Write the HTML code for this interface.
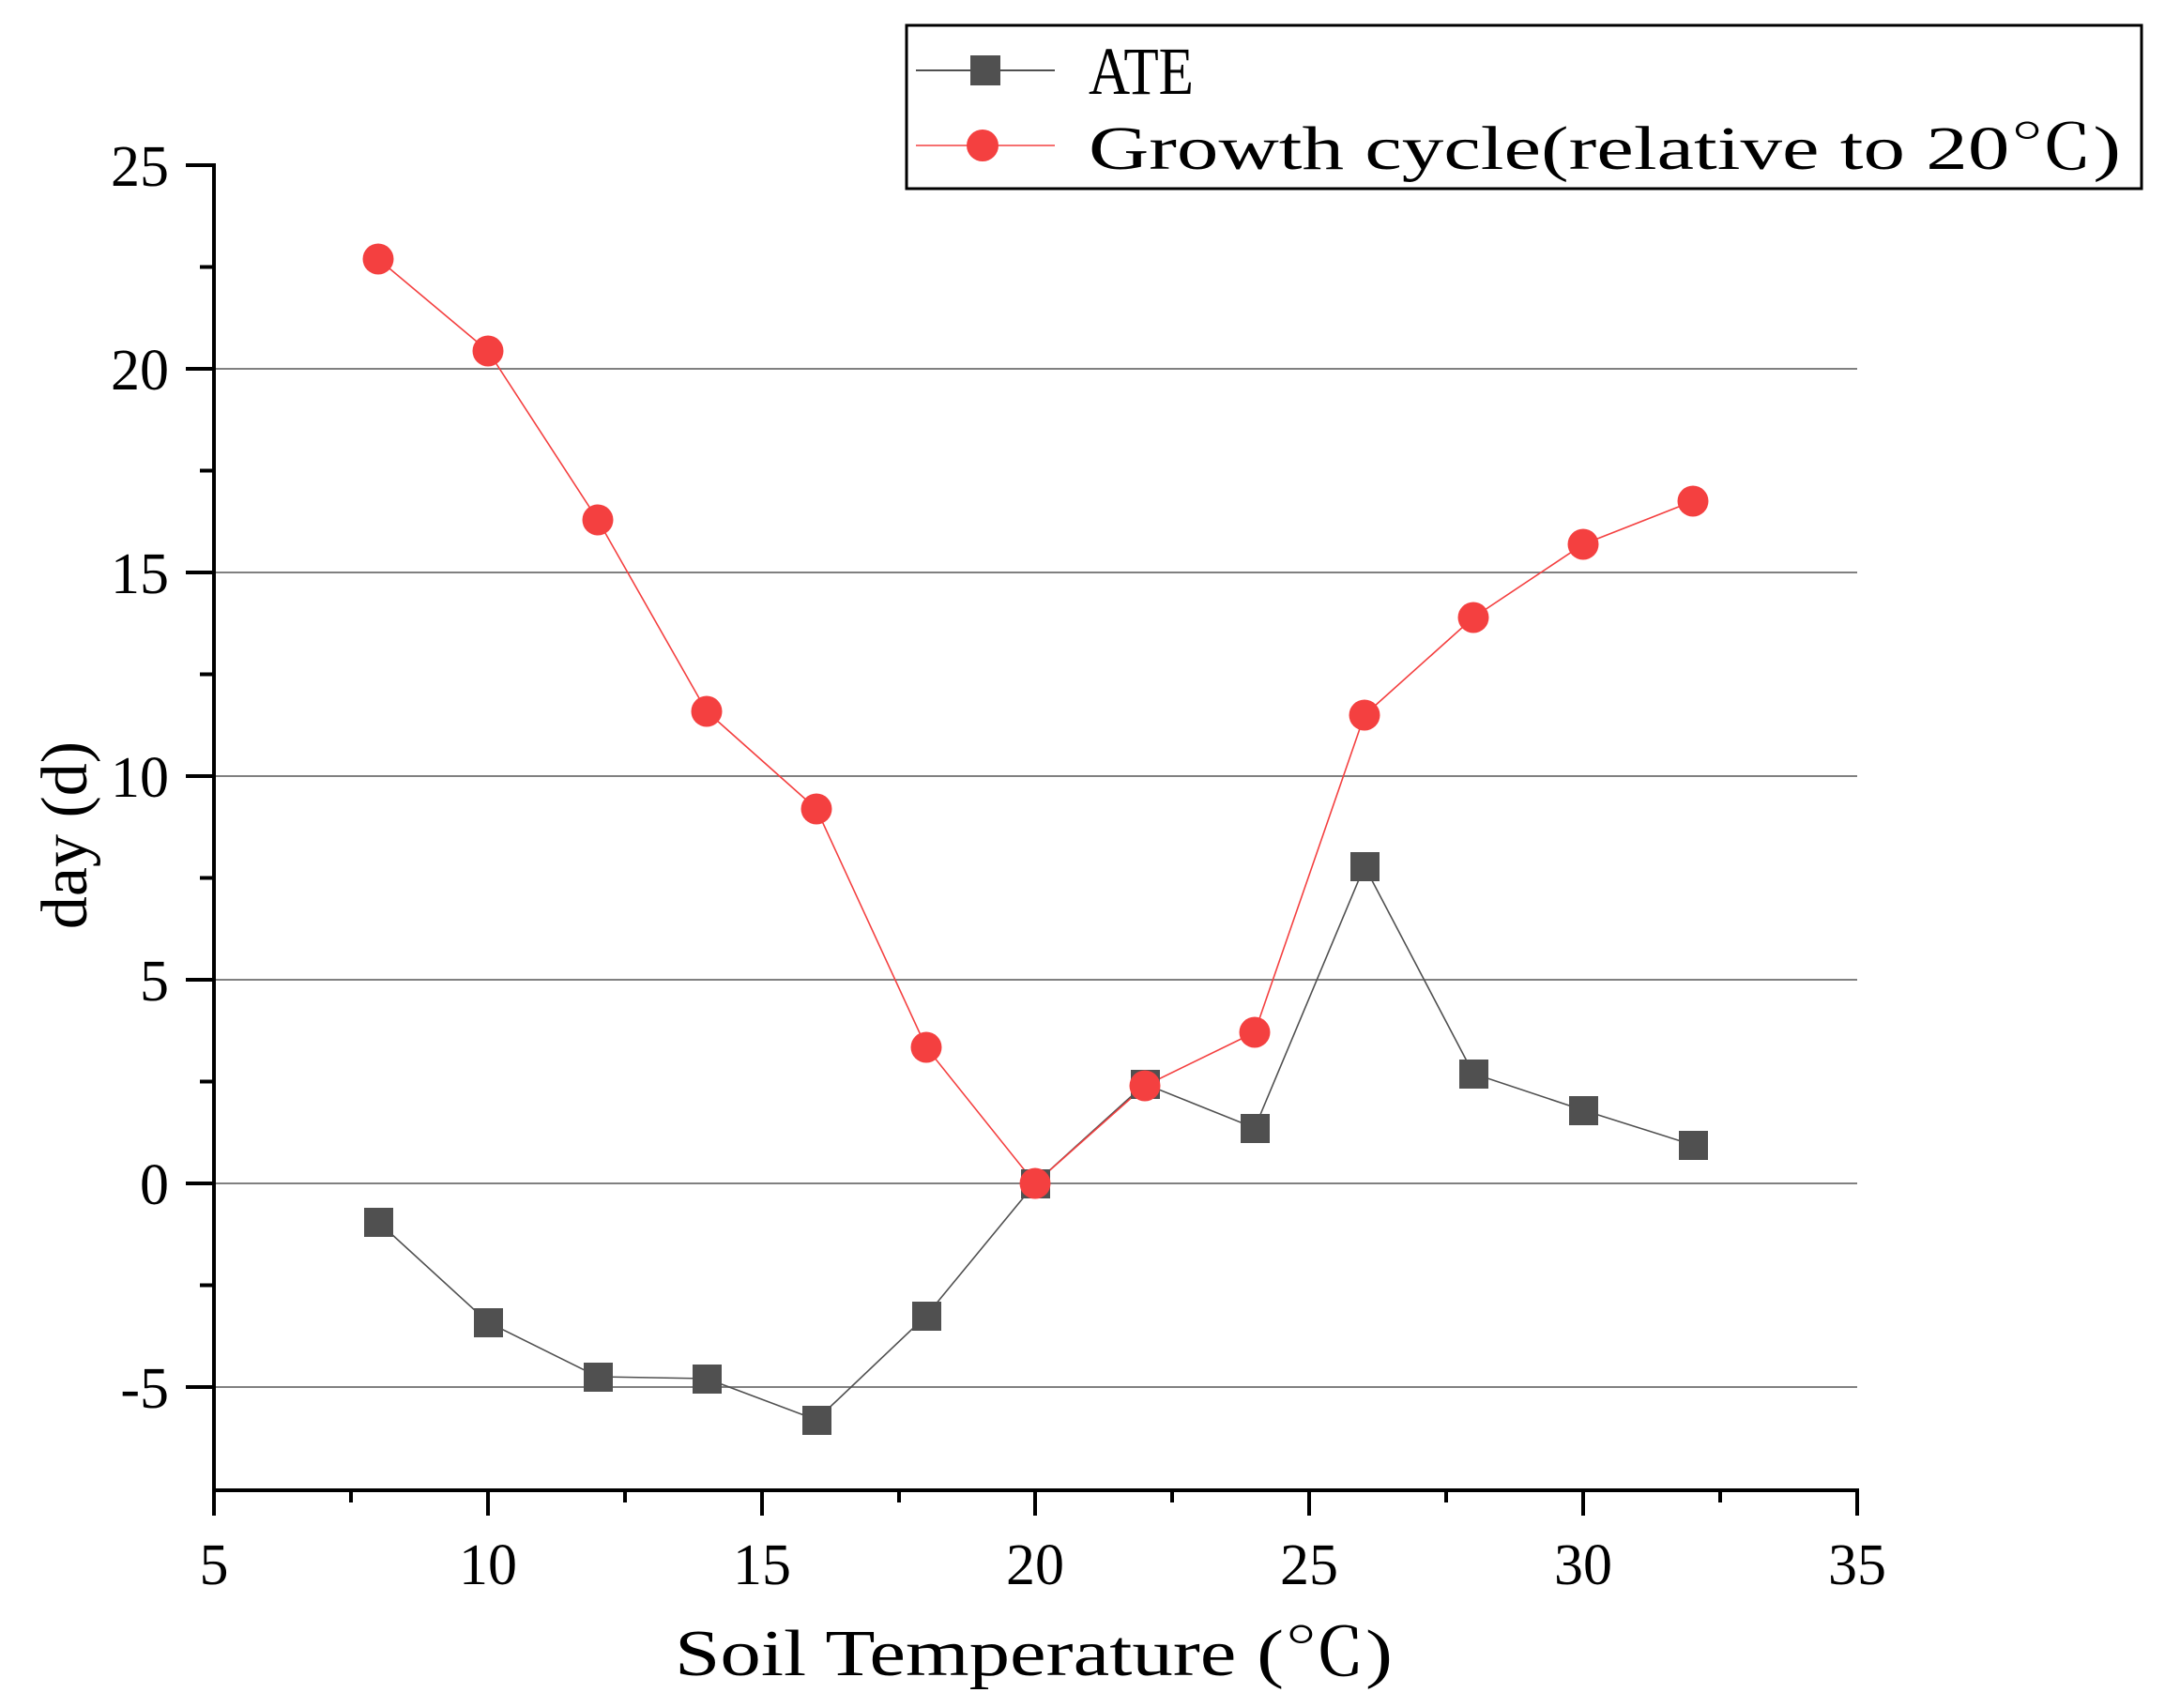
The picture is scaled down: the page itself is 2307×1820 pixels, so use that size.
<!DOCTYPE html>
<html><head><meta charset="utf-8"><style>html,body{margin:0;padding:0;background:#fff}svg{display:block}</style></head>
<body>
<svg width="2307" height="1820" viewBox="0 0 2307 1820" xmlns="http://www.w3.org/2000/svg" font-family="'Liberation Serif','Noto Serif CJK SC',serif">
<rect width="2307" height="1820" fill="#fff"/>
<g stroke="#808080" stroke-width="2">
<line x1="228" y1="393" x2="1979" y2="393"/>
<line x1="228" y1="610" x2="1979" y2="610"/>
<line x1="228" y1="827" x2="1979" y2="827"/>
<line x1="228" y1="1044" x2="1979" y2="1044"/>
<line x1="228" y1="1261" x2="1979" y2="1261"/>
<line x1="228" y1="1478" x2="1979" y2="1478"/>
</g>
<g stroke="#000" stroke-width="4" fill="none">
<line x1="228" y1="174" x2="228" y2="1590"/>
<line x1="226" y1="1588" x2="1981" y2="1588"/>
<line x1="198" y1="176" x2="228" y2="176"/>
<line x1="198" y1="393" x2="228" y2="393"/>
<line x1="198" y1="610" x2="228" y2="610"/>
<line x1="198" y1="827" x2="228" y2="827"/>
<line x1="198" y1="1044" x2="228" y2="1044"/>
<line x1="198" y1="1261" x2="228" y2="1261"/>
<line x1="198" y1="1478" x2="228" y2="1478"/>
<line x1="213" y1="284.5" x2="228" y2="284.5"/>
<line x1="213" y1="501.5" x2="228" y2="501.5"/>
<line x1="213" y1="718.5" x2="228" y2="718.5"/>
<line x1="213" y1="935.5" x2="228" y2="935.5"/>
<line x1="213" y1="1152.5" x2="228" y2="1152.5"/>
<line x1="213" y1="1369.5" x2="228" y2="1369.5"/>
<line x1="228" y1="1588" x2="228" y2="1615"/>
<line x1="520" y1="1588" x2="520" y2="1615"/>
<line x1="812" y1="1588" x2="812" y2="1615"/>
<line x1="1103" y1="1588" x2="1103" y2="1615"/>
<line x1="1395" y1="1588" x2="1395" y2="1615"/>
<line x1="1687" y1="1588" x2="1687" y2="1615"/>
<line x1="1979" y1="1588" x2="1979" y2="1615"/>
<line x1="374" y1="1588" x2="374" y2="1601"/>
<line x1="666" y1="1588" x2="666" y2="1601"/>
<line x1="958" y1="1588" x2="958" y2="1601"/>
<line x1="1249" y1="1588" x2="1249" y2="1601"/>
<line x1="1541" y1="1588" x2="1541" y2="1601"/>
<line x1="1833" y1="1588" x2="1833" y2="1601"/>
</g>
<g font-size="62" text-anchor="end" fill="#000">
<text x="180" y="198">25</text>
<text x="180" y="415">20</text>
<text x="180" y="632">15</text>
<text x="180" y="849">10</text>
<text x="180" y="1066">5</text>
<text x="180" y="1283">0</text>
<text x="180" y="1500">-5</text>
</g>
<g font-size="62" text-anchor="middle" fill="#000">
<text x="228" y="1688">5</text>
<text x="520" y="1688">10</text>
<text x="812" y="1688">15</text>
<text x="1103" y="1688">20</text>
<text x="1395" y="1688">25</text>
<text x="1687" y="1688">30</text>
<text x="1979" y="1688">35</text>
</g>
<text x="719" y="1785" font-size="70" textLength="765" lengthAdjust="spacingAndGlyphs">Soil Temperature (℃)</text>
<text transform="translate(92,890) rotate(-90)" font-size="70" text-anchor="middle">day (d)</text>
<polyline fill="none" stroke="#505050" stroke-width="1.6" points="403,1302 520,1409 637,1467 753,1469 870,1513 987,1402 1103,1261 1220,1155 1337,1202 1454,923 1570,1144 1687,1183 1804,1220"/>
<polyline fill="none" stroke="#f44040" stroke-width="1.6" points="403,276 520,374 637,554 753,758 870,862 987,1116 1103,1261 1220,1157 1337,1100 1454,762 1570,658 1687,580 1804,534"/>
<g fill="#505050">
<rect x="388" y="1287" width="31" height="31"/><rect x="505" y="1394" width="31" height="31"/><rect x="622" y="1452" width="31" height="31"/><rect x="738" y="1454" width="31" height="31"/><rect x="855" y="1498" width="31" height="31"/><rect x="972" y="1387" width="31" height="31"/><rect x="1088" y="1246" width="31" height="31"/><rect x="1205" y="1140" width="31" height="31"/><rect x="1322" y="1187" width="31" height="31"/><rect x="1439" y="908" width="31" height="31"/><rect x="1555" y="1129" width="31" height="31"/><rect x="1672" y="1168" width="31" height="31"/><rect x="1789" y="1205" width="31" height="31"/>
</g>
<g fill="#f44040">
<circle cx="403" cy="276" r="16.5"/><circle cx="520" cy="374" r="16.5"/><circle cx="637" cy="554" r="16.5"/><circle cx="753" cy="758" r="16.5"/><circle cx="870" cy="862" r="16.5"/><circle cx="987" cy="1116" r="16.5"/><circle cx="1103" cy="1261" r="16.5"/><circle cx="1220" cy="1157" r="16.5"/><circle cx="1337" cy="1100" r="16.5"/><circle cx="1454" cy="762" r="16.5"/><circle cx="1570" cy="658" r="16.5"/><circle cx="1687" cy="580" r="16.5"/><circle cx="1804" cy="534" r="16.5"/>
</g>
<rect x="966" y="27" width="1316" height="174" fill="none" stroke="#000" stroke-width="3"/>
<line x1="976" y1="75" x2="1124" y2="75" stroke="#505050" stroke-width="2"/>
<rect x="1034" y="59" width="32" height="32" fill="#505050"/>
<line x1="976" y1="155" x2="1124" y2="155" stroke="#f44040" stroke-width="1.6"/>
<circle cx="1047" cy="155" r="17" fill="#f44040"/>
<text x="1160" y="100" font-size="72" textLength="112" lengthAdjust="spacingAndGlyphs">ATE</text>
<text x="1160" y="180" font-size="66" textLength="1100" lengthAdjust="spacingAndGlyphs">Growth cycle(relative to 20℃)</text>
</svg>
</body></html>
